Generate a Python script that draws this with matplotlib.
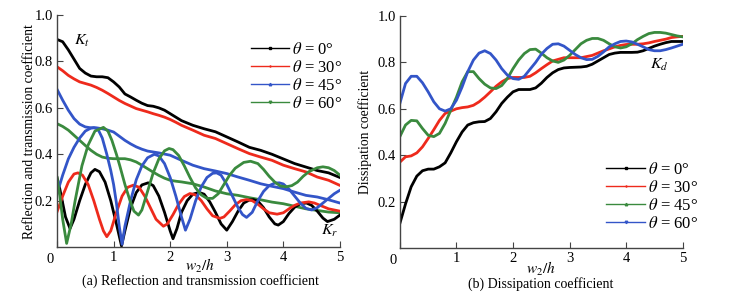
import matplotlib
matplotlib.use("Agg")
import matplotlib.pyplot as plt
from matplotlib.lines import Line2D
import numpy as np

plt.rcParams["font.family"] = ["Liberation Serif", "DejaVu Serif"]
plt.rcParams["mathtext.fontset"] = "stix"

BLACK = "#000000"
RED = "#ee2a1c"
BLUE = "#3355c8"
GREEN = "#3a8a3e"

ANGLES = [0, 30, 45, 60]

# ---- (a) transmission coefficient Kt, read at x = 0, 0.2, ... 5 (plus a few extra)
kt_x = [0, 0.1, 0.2, 0.3, 0.4, 0.5, 0.6, 0.7, 0.8, 0.9, 1.0, 1.1, 1.2, 1.3, 1.4, 1.5,
        1.6, 1.7, 1.8, 1.9, 2.0, 2.1, 2.2, 2.4, 2.6, 2.8, 3.0, 3.2, 3.4, 3.6, 3.8,
        4.0, 4.2, 4.4, 4.6, 4.8, 5.0]
kt_0 = [0.895, 0.885, 0.85, 0.81, 0.77, 0.75, 0.737, 0.734, 0.734, 0.73, 0.712, 0.69,
        0.66, 0.647, 0.633, 0.62, 0.61, 0.607, 0.60, 0.59, 0.575, 0.56, 0.545, 0.525,
        0.51, 0.497, 0.475, 0.453, 0.43, 0.417, 0.40, 0.38, 0.36, 0.345, 0.33, 0.32, 0.30]
kt_30 = [0.777, 0.76, 0.74, 0.725, 0.712, 0.705, 0.698, 0.688, 0.676, 0.662, 0.647,
         0.632, 0.619, 0.608, 0.597, 0.59, 0.583, 0.575, 0.568, 0.56, 0.55, 0.538,
         0.525, 0.504, 0.482, 0.468, 0.446, 0.424, 0.403, 0.388, 0.374, 0.353, 0.338,
         0.324, 0.302, 0.288, 0.266]
kt_45 = [0.68, 0.633, 0.59, 0.554, 0.53, 0.518, 0.514, 0.514, 0.51, 0.504, 0.496,
         0.478, 0.46, 0.445, 0.432, 0.422, 0.414, 0.41, 0.406, 0.401, 0.396, 0.385,
         0.374, 0.353, 0.338, 0.328, 0.317, 0.302, 0.288, 0.273, 0.262, 0.252, 0.237,
         0.223, 0.216, 0.204, 0.19]
kt_60 = [0.532, 0.52, 0.504, 0.482, 0.46, 0.438, 0.417, 0.4, 0.388, 0.383, 0.381,
         0.381, 0.381, 0.376, 0.367, 0.353, 0.338, 0.323, 0.309, 0.297, 0.288, 0.284,
         0.281, 0.273, 0.259, 0.242, 0.23, 0.223, 0.213, 0.204, 0.194, 0.187, 0.176,
         0.165, 0.158, 0.151, 0.148]

# ---- (a) reflection coefficient Kr
kr0_x = [0, 0.05, 0.1, 0.15, 0.23, 0.3, 0.4, 0.5, 0.6, 0.67, 0.75, 0.85, 0.95, 1.05,
         1.14, 1.2, 1.3, 1.4, 1.5, 1.61, 1.7, 1.8, 1.9, 2.0, 2.05, 2.12, 2.2, 2.3, 2.4,
         2.51, 2.6, 2.7, 2.8, 2.9, 3.0, 3.1, 3.2, 3.3, 3.4, 3.47, 3.55, 3.65, 3.75,
         3.85, 3.91, 4.0, 4.1, 4.2, 4.3, 4.41, 4.5, 4.6, 4.7, 4.78, 4.9, 5.0]
kr0_y = [0.30, 0.25, 0.19, 0.13, 0.08, 0.12, 0.20, 0.27, 0.32, 0.335, 0.325, 0.28,
         0.20, 0.10, 0.005, 0.07, 0.17, 0.235, 0.268, 0.277, 0.265, 0.22, 0.15, 0.07,
         0.036, 0.08, 0.15, 0.20, 0.228, 0.236, 0.228, 0.195, 0.15, 0.10, 0.073, 0.11,
         0.155, 0.19, 0.203, 0.205, 0.198, 0.17, 0.13, 0.10, 0.095, 0.11, 0.145, 0.172,
         0.187, 0.19, 0.18, 0.155, 0.125, 0.11, 0.12, 0.138]

kr30_x = [0, 0.1, 0.2, 0.3, 0.37, 0.45, 0.55, 0.65, 0.75, 0.82, 0.88, 0.95, 1.05,
          1.15, 1.25, 1.35, 1.45, 1.55, 1.65, 1.75, 1.88, 1.95, 2.05, 2.15, 2.25, 2.35,
          2.45, 2.55, 2.65, 2.75, 2.88, 2.95, 3.05, 3.15, 3.25, 3.35, 3.45, 3.55, 3.65,
          3.75, 3.89, 4.0, 4.1, 4.2, 4.3, 4.45, 4.55, 4.65, 4.8, 5.0]
kr30_y = [0.152, 0.22, 0.28, 0.315, 0.32, 0.31, 0.27, 0.20, 0.12, 0.07, 0.045, 0.07,
          0.15, 0.22, 0.258, 0.267, 0.258, 0.22, 0.17, 0.12, 0.09, 0.10, 0.14, 0.185,
          0.218, 0.231, 0.225, 0.20, 0.165, 0.135, 0.124, 0.13, 0.155, 0.182, 0.20,
          0.205, 0.20, 0.185, 0.165, 0.148, 0.142, 0.148, 0.165, 0.18, 0.19, 0.195,
          0.19, 0.18, 0.165, 0.155]

kr45_x = [0, 0.05, 0.1, 0.2, 0.3, 0.4, 0.5, 0.6, 0.65, 0.72, 0.8, 0.88, 0.95, 1.0,
          1.05, 1.1, 1.15, 1.2, 1.3, 1.4, 1.5, 1.6, 1.72, 1.8, 1.9, 2.0, 2.1, 2.2,
          2.27, 2.35, 2.45, 2.55, 2.65, 2.75, 2.82, 2.9, 3.0, 3.1, 3.2, 3.28, 3.35,
          3.45, 3.55, 3.65, 3.75, 3.85, 3.93, 4.0, 4.1, 4.2, 4.3, 4.4, 4.5, 4.6, 4.7,
          4.8, 4.9, 5.0]
kr45_y = [0.23, 0.27, 0.31, 0.38, 0.43, 0.47, 0.50, 0.513, 0.515, 0.51, 0.47, 0.40,
          0.33, 0.27, 0.19, 0.09, 0.012, 0.09, 0.20, 0.29, 0.35, 0.385, 0.40, 0.393,
          0.36, 0.30, 0.22, 0.13, 0.073, 0.12, 0.20, 0.26, 0.30, 0.318, 0.32, 0.31,
          0.27, 0.22, 0.17, 0.14, 0.128, 0.15, 0.20, 0.24, 0.265, 0.276, 0.277, 0.272,
          0.25, 0.22, 0.19, 0.167, 0.16, 0.17, 0.19, 0.21, 0.23, 0.245]

kr60_x = [0, 0.05, 0.1, 0.17, 0.25, 0.32, 0.44, 0.55, 0.67, 0.82, 0.9, 0.97, 1.05,
          1.11, 1.2, 1.29, 1.36, 1.44, 1.5, 1.6, 1.7, 1.8, 1.9, 1.98, 2.05, 2.15, 2.25,
          2.35, 2.45, 2.55, 2.65, 2.75, 2.85, 2.95, 3.05, 3.15, 3.3, 3.42, 3.55, 3.65,
          3.75, 3.85, 3.95, 4.05, 4.15, 4.25, 4.35, 4.45, 4.6, 4.7, 4.8, 4.9, 5.0]
kr60_y = [0.30, 0.22, 0.12, 0.016, 0.10, 0.20, 0.35, 0.44, 0.50, 0.516, 0.50, 0.46,
          0.40, 0.35, 0.27, 0.20, 0.155, 0.138, 0.16, 0.24, 0.32, 0.38, 0.415, 0.425,
          0.42, 0.395, 0.35, 0.30, 0.255, 0.225, 0.21, 0.21, 0.23, 0.27, 0.31, 0.34,
          0.365, 0.37, 0.36, 0.335, 0.305, 0.28, 0.263, 0.26, 0.265, 0.28, 0.305,
          0.325, 0.342, 0.346, 0.342, 0.33, 0.31]

# ---- (b) dissipation coefficient Kd, read at x = 0, 0.1, ... 5
kd_x = [round(0.1 * i, 1) for i in range(51)]
kd_0 = [0.106, 0.19, 0.264, 0.31, 0.333, 0.34, 0.34, 0.35, 0.367, 0.41, 0.458, 0.50,
        0.53, 0.54, 0.544, 0.545, 0.558, 0.587, 0.623, 0.65, 0.673, 0.683, 0.683,
        0.683, 0.69, 0.71, 0.735, 0.755, 0.769, 0.776, 0.778, 0.779, 0.78, 0.783,
        0.792, 0.806, 0.82, 0.834, 0.84, 0.843, 0.843, 0.843, 0.844, 0.85, 0.86,
        0.87, 0.878, 0.885, 0.89, 0.89, 0.89]
kd_30 = [0.37, 0.393, 0.397, 0.41, 0.436, 0.472, 0.51, 0.55, 0.58, 0.59, 0.60, 0.605,
         0.608, 0.615, 0.63, 0.65, 0.673, 0.697, 0.716, 0.73, 0.735, 0.735, 0.735,
         0.74, 0.755, 0.773, 0.79, 0.806, 0.813, 0.82, 0.82, 0.82, 0.82, 0.825, 0.83,
         0.84, 0.85, 0.858, 0.867, 0.873, 0.877, 0.878, 0.878, 0.88, 0.884, 0.89,
         0.895, 0.9, 0.907, 0.91, 0.912]
kd_45 = [0.48, 0.53, 0.55, 0.548, 0.515, 0.486, 0.48, 0.494, 0.537, 0.594, 0.65,
         0.716, 0.76, 0.76, 0.73, 0.706, 0.69, 0.687, 0.70, 0.73, 0.773, 0.81, 0.838,
         0.855, 0.857, 0.84, 0.82, 0.806, 0.80, 0.81, 0.83, 0.855, 0.88, 0.895, 0.903,
         0.903, 0.895, 0.88, 0.867, 0.862, 0.867, 0.88, 0.898, 0.912, 0.924, 0.929,
         0.929, 0.926, 0.92, 0.914, 0.91]
kd_60 = [0.623, 0.709, 0.74, 0.74, 0.712, 0.673, 0.63, 0.60, 0.59, 0.60, 0.637,
         0.694, 0.76, 0.81, 0.84, 0.85, 0.838, 0.81, 0.773, 0.745, 0.73, 0.727, 0.74,
         0.77, 0.80, 0.835, 0.86, 0.878, 0.88, 0.87, 0.852, 0.834, 0.82, 0.812, 0.813,
         0.826, 0.845, 0.867, 0.88, 0.89, 0.892, 0.888, 0.878, 0.867, 0.855, 0.85,
         0.85, 0.855, 0.862, 0.87, 0.878]


def style_axes(ax):
    ax.set_xlim(0, 5)
    ax.set_ylim(0, 1.0)
    for s in ("top", "right"):
        ax.spines[s].set_visible(False)
    for s in ("left", "bottom"):
        ax.spines[s].set_color("#444444")
        ax.spines[s].set_linewidth(1.0)
    ax.set_xticks([0, 1, 2, 3, 4, 5])
    ax.set_xticklabels(["", "1", "2", "3", "4", "5"])
    ax.set_yticks([0.2, 0.4, 0.6, 0.8, 1.0])
    ax.set_yticklabels(["0.2", "0.4", "0.6", "0.8", "1.0"])
    ax.tick_params(direction="in", length=4, width=0.8, color="#444444",
                   labelsize=10.5, pad=3)
    ax.text(-0.012, -0.025, "0", transform=ax.transAxes, ha="right", va="top",
            fontsize=10.5)


def legend_handles(colors, markers):
    return [Line2D([0], [0], color=c, lw=1.0, marker=m, ms=1.8) for c, m in zip(colors, markers)]


fig = plt.figure(figsize=(7.31, 3.01), dpi=100)

# ---------------- (a)
ax1 = fig.add_axes([0.078, 0.179, 0.387, 0.771])
lw = 2.0
ax1.plot(kt_x, kt_0, color=BLACK, lw=lw)
ax1.plot(kt_x, kt_30, color=RED, lw=lw)
ax1.plot(kt_x, kt_45, color=BLUE, lw=lw)
ax1.plot(kt_x, kt_60, color=GREEN, lw=lw)
ax1.plot(kr0_x, kr0_y, color=BLACK, lw=lw)
ax1.plot(kr30_x, kr30_y, color=RED, lw=lw)
ax1.plot(kr45_x, kr45_y, color=BLUE, lw=lw)
ax1.plot(kr60_x, kr60_y, color=GREEN, lw=lw)
style_axes(ax1)
ax1.set_ylabel("Reflection and transmission coefficient", fontsize=9.8, labelpad=-1)
ax1.text(0.45, 0.89, r"$K_t$", fontsize=11.5, ha="center", va="center")
ax1.text(4.82, 0.07, r"$K_r$", fontsize=11.5, ha="center", va="center")
ax1.legend(legend_handles([BLACK, RED, BLUE, GREEN], ["s", "+", "^", "v"]),
           [rf"$\theta$ = {a}°" for a in ANGLES], frameon=False, fontsize=12,
           loc="upper left", bbox_to_anchor=(0.685, 0.885), handlelength=2.3,
           handletextpad=0.2, labelspacing=0.12, borderaxespad=0, borderpad=0)

# ---------------- (b)
ax2 = fig.add_axes([0.547, 0.176, 0.387, 0.771])
ax2.plot(kd_x, kd_0, color=BLACK, lw=lw)
ax2.plot(kd_x, kd_30, color=RED, lw=lw)
ax2.plot(kd_x, kd_45, color=GREEN, lw=lw)
ax2.plot(kd_x, kd_60, color=BLUE, lw=lw)
style_axes(ax2)
ax2.set_ylabel("Dissipation coefficient", fontsize=9.8, labelpad=4)
ax2.text(4.59, 0.79, r"$K_d$", fontsize=11.5, ha="center", va="center")
ax2.legend(legend_handles([BLACK, RED, GREEN, BLUE], ["s", "+", "^", "v"]),
           [rf"$\theta$ = {a}°" for a in ANGLES], frameon=False, fontsize=12,
           loc="upper left", bbox_to_anchor=(0.73, 0.37), handlelength=2.3,
           handletextpad=0.2, labelspacing=0.12, borderaxespad=0, borderpad=0)

fig.text(200 / 731, 1 - 266 / 301, r"$w_2/h$", ha="center", va="center", fontsize=11)
fig.text(200 / 731, 1 - 281 / 301, "(a) Reflection and transmission coefficient",
         ha="center", va="center", fontsize=10)
fig.text(541 / 731, 1 - 269 / 301, r"$w_2/h$", ha="center", va="center", fontsize=11)
fig.text(541 / 731, 1 - 284 / 301, "(b) Dissipation coefficient",
         ha="center", va="center", fontsize=10)

fig.savefig("out.png", dpi=100)
